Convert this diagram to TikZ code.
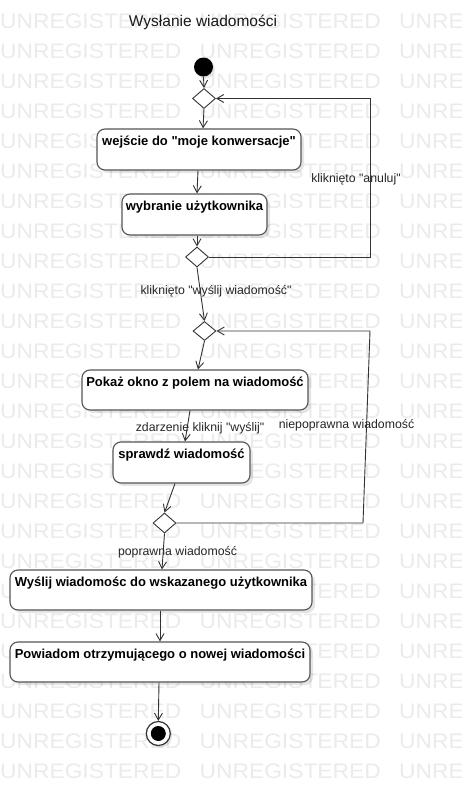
\documentclass[tikz,border=0pt]{standalone}
\usepackage{fontspec}
\setmainfont{Liberation Sans}[Ligatures=TeXOff]
\usetikzlibrary{shapes.geometric,arrows.meta,shadows,calc}
\definecolor{wm}{HTML}{EBEBEB}
\definecolor{ln}{HTML}{333333}
\definecolor{bd}{HTML}{555555}
\begin{document}
\begin{tikzpicture}[x=1pt,y=-1pt,
  flow/.style={draw=ln,line width=0.9pt,-{Straight Barb[length=7pt,width=8pt]}},
  actbox/.style={draw=bd,line width=1.1pt,rounded corners=8pt,fill=white,inner sep=0pt,
    drop shadow={shadow xshift=3pt,shadow yshift=-3pt,opacity=0.10,fill=black}},
  boxtext/.style={inner sep=0pt,font=\fontsize{13}{15}\selectfont\bfseries,text=black},
  dec/.style={diamond,draw=ln,line width=0.9pt,fill=white,inner sep=0pt,minimum width=23pt,minimum height=20pt},
  lbl/.style={inner sep=0pt,font=\fontsize{12.3}{14}\selectfont,text=black!85},
  wmark/.style={inner sep=0pt,anchor=base west,text=wm,font=\fontsize{21}{21}\selectfont,xscale=1.085}
]
\useasboundingbox (0,0) rectangle (462,787);
\fill[white] (0,0) rectangle (462,787);
% watermark
\foreach \k in {0,...,25}{
  \node[wmark] (wa\k) at (0,{28.3+30*\k}) {UNREGISTERED};
  \node[wmark] (wb\k) at (199.5,{28.3+30*\k}) {UNREGISTERED};
  \node[wmark] (wc\k) at (399,{28.3+30*\k}) {UNREGISTERED};
}
% title
\node[inner sep=0pt,font=\fontsize{15.5}{17}\selectfont,text=black!90] (title) at (203,22) {Wysłanie wiadomości};
% start
\node[circle,fill=black,inner sep=0pt,minimum size=19pt,
  drop shadow={shadow xshift=2pt,shadow yshift=-2pt,opacity=0.10,fill=black}] (start) at (203.5,67) {};
% decisions
\node[dec] (d1) at (204,98.5) {};
\node[dec] (d2) at (197,257) {};
\node[dec,minimum height=19pt] (d3) at (204.5,331) {};
\node[dec] (d4) at (164.5,523) {};
% boxes
\node[actbox,minimum width=204pt,minimum height=41pt] (b1) at (199,149.5) {};
\node[boxtext] (t1) at ($(b1.north)+(0,14)$) {wejście do "moje konwersacje"};
\node[actbox,minimum width=145pt,minimum height=41pt] (b2) at (194.5,214.5) {};
\node[boxtext] (t2) at ($(b2.north)+(0,14)$) {wybranie użytkownika};
\node[actbox,minimum width=226pt,minimum height=40pt] (b3) at (195,390) {};
\node[boxtext] (t3) at ($(b3.north)+(0,14)$) {Pokaż okno z polem na wiadomość};
\node[actbox,minimum width=137pt,minimum height=41pt] (b4) at (181.5,462.5) {};
\node[boxtext] (t4) at ($(b4.north)+(0,14)$) {sprawdź wiadomość};
\node[actbox,minimum width=302pt,minimum height=40pt] (b5) at (161,590) {};
\node[boxtext] (t5) at ($(b5.north)+(0,14)$) {Wyślij wiadomośc do wskazanego użytkownika};
\node[actbox,minimum width=300pt,minimum height=40pt] (b6) at (160,662) {};
\node[boxtext] (t6) at ($(b6.north)+(0,14)$) {Powiadom otrzymującego o nowej wiadomości};
% end
\node[circle,draw=ln,line width=1.2pt,fill=white,inner sep=0pt,minimum size=24pt,
  drop shadow={shadow xshift=2pt,shadow yshift=-2pt,opacity=0.10,fill=black}] (end) at (158.3,733.5) {};
\node[circle,fill=black,inner sep=0pt,minimum size=15pt] (endin) at (end.center) {};
% loop corners
\coordinate (c1a) at (370,257);
\coordinate (c1b) at (370,98.5);
\coordinate (c2a) at (363,523);
\coordinate (c2b) at (370,331);
% flows
\draw[flow] (start.south) -- (d1.north);
\draw[flow] (d1.south) -- ($(b1.north)+(4,0)$);
\draw[flow] ($(b1.south)+(-1,0)$) -- ($(b2.north)+(2.5,0)$);
\draw[flow] ($(b2.south)+(2.5,0)$) -- (d2.north);
\draw[flow] (d2.south) -- (d3.north);
\draw[flow] (d2.east) -- (c1a) -- (c1b) -- (d1.east);
\draw[flow] (d3.south) -- ($(b3.north)+(3,0)$);
\draw[flow] ($(b3.south)+(-5,0)$) -- ($(b4.north)+(3.5,0)$);
\draw[flow] ($(b4.south)+(-6.5,0)$) -- (d4.north);
\draw[flow] (d4.east) -- (c2a) -- (c2b) -- (d3.east);
\draw[flow] (d4.south) -- ($(b5.north)+(1,0)$);
\draw[flow] ($(b5.south)+(-1,0)$) -- (b6.north);
\draw[flow] ($(b6.south)+(-1,0)$) -- (end.north);
% labels
\node[lbl] (l1) at (356,179) {kliknięto "anuluj"};
\node[lbl] (l2) at (216,291) {kliknięto "wyślij wiadomość"};
\node[lbl] (l3) at (200,428) {zdarzenie kliknij "wyślij"};
\node[lbl] (l4) at (346.5,425) {niepoprawna wiadomość};
\node[lbl] (l5) at (177.5,552) {poprawna wiadomość};
\end{tikzpicture}
\end{document}
